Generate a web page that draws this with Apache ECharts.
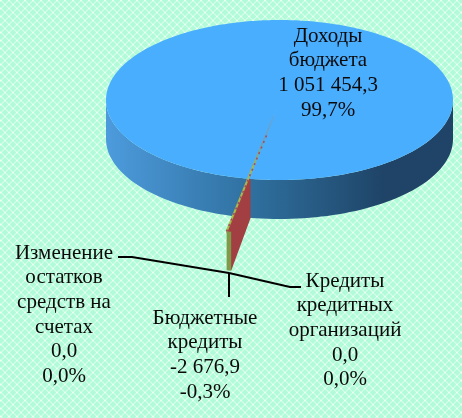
<!DOCTYPE html>
<html>
<head>
<meta charset="utf-8">
<style>
html, body { margin: 0; padding: 0; background: #b5fcd9; }
#main { width: 462px; height: 418px; }
</style>
<script src="https://cdn.jsdelivr.net/npm/echarts@6/dist/echarts.min.js"></script>
</head>
<body>
<div id="main"></div>
<script>
var categories = ['Доходы\nбюджета', 'Изменение\nостатков\nсредств на\nсчетах', 'Бюджетные\nкредиты', 'Кредиты\nкредитных\nорганизаций'];
var values = [1051454.3, 0, -2676.9, 0];

// layout of the fake 3d pie
var cx = 279.5, cy = 100, rx = 173.5, ry = 80, depth = 39;
var pullOut = 1.67;      // the small slice sticks far out of the pie
var startAngle = 189.6;  // degrees clockwise from the top
var labelPos = [[328, 24], [64, 241], [205, 306], [345, 269]];
var leaders = [
  [],
  [[118, 257], [132, 257], [229, 273]],
  [[229, 273], [229, 297]],
  [[229, 273], [290, 287], [301, 287]]
];

var total = values.reduce(function (s, v) { return s + Math.abs(v); }, 0);

function pt(deg, r) {
  var a = deg * Math.PI / 180;
  return [cx + rx * r * Math.sin(a), cy - ry * r * Math.cos(a)];
}
function down(p) {
  return [p[0], p[1] + depth];
}
function fmtNum(v) {
  var s = Math.abs(v).toFixed(1).split('.');
  return (v < 0 ? '-' : '') + s[0].replace(/\B(?=(\d{3})+$)/g, ' ') + ',' + s[1];
}
function fmtPct(v) {
  return (v / total * 100).toFixed(1).replace('.', ',') + '%';
}

// background tile, mint with a diagonal lattice of light lines
function makeTile() {
  var c = document.createElement('canvas');
  c.width = 8;
  c.height = 8;
  var g = c.getContext('2d');
  for (var y = 0; y < 8; y++) {
    for (var x = 0; x < 8; x++) {
      var n = ((x + y) % 8 < 2 ? 1 : 0) + ((x - y + 8) % 8 < 2 ? 1 : 0);
      g.fillStyle = ['#b2fbd8', '#cefde6', '#ecfff6'][n];
      g.fillRect(x, y, 1, 1);
    }
  }
  return c;
}

function mainSlice(sweep) {
  // side band first, then the top of the pie
  var side = [];
  var a;
  for (a = 90; a <= 270; a += 2) side.push(pt(a, 1));
  for (a = 270; a >= 90; a -= 2) side.push(down(pt(a, 1)));
  var top = [[cx, cy]];
  var from = startAngle + (360 - sweep);
  for (a = 0; a <= sweep; a += 1) top.push(pt(from + a, 1));
  top.push(pt(from + sweep, 1));
  return [
    {
      type: 'polygon',
      shape: { points: side },
      style: {
        fill: new echarts.graphic.LinearGradient(0, 0, 1, 0, [
          { offset: 0, color: '#4d9bdd' },
          { offset: 0.42, color: '#2f709f' },
          { offset: 0.8, color: '#1f4467' },
          { offset: 1, color: '#1f4467' }
        ])
      }
    },
    { type: 'polygon', shape: { points: top }, style: { fill: '#4aaeff' } }
  ];
}

function smallSlice(sweep) {
  var right = startAngle, left = startAngle + sweep;
  var tipR = pt(right, pullOut), tipL = pt(left, pullOut);
  var rim = pt(right, 1), rimL = pt(left, 1);
  return [
    {
      // top of the thin slice inside the pie, same blue so no gap shows
      type: 'polygon',
      shape: { points: [[cx, cy], rim, rimL] },
      style: { fill: '#4aaeff', stroke: '#4aaeff', lineWidth: 1 }
    },
    {
      type: 'polygon',
      shape: { points: [rimL, rim, down(rim), down(rimL)] },
      style: { fill: '#2f709f' }
    },
    {
      type: 'polygon',
      shape: { points: [rimL, tipL, down(tipR), down(rim), rim] },
      style: { fill: '#a23f42' }
    },
    {
      type: 'polygon',
      shape: { points: [tipL, tipR, down(tipR), down(tipL)] },
      style: { fill: '#7f9a48' }
    },
    {
      type: 'polyline',
      shape: { points: [pt(right, 0.2), tipL] },
      style: {
        fill: 'none',
        lineWidth: 2,
        stroke: new echarts.graphic.LinearGradient(1, 0, 0, 1, [
          { offset: 0, color: 'rgba(120,150,180,0.25)' },
          { offset: 0.25, color: 'rgba(130,150,140,0.6)' },
          { offset: 0.45, color: '#a8b455' },
          { offset: 1, color: '#a9bb48' }
        ])
      }
    },
    {
      type: 'polyline',
      shape: { points: [pt(right, 0.45), tipL] },
      style: { fill: 'none', lineWidth: 1.6, stroke: '#a0505a', lineDash: [2, 4] }
    }
  ];
}

function renderItem(params, api) {
  var i = params.dataIndex;
  var v = api.value(0);
  var sweep = Math.abs(v) / total * 360;
  var children = [];
  if (v > 0) children = mainSlice(sweep);
  else if (v < 0) children = smallSlice(sweep);
  if (leaders[i].length) {
    children.push({
      type: 'polyline',
      shape: { points: leaders[i] },
      style: { fill: 'none', stroke: '#000', lineWidth: 2 }
    });
  }
  children.push({
    type: 'text',
    style: {
      x: labelPos[i][0],
      y: labelPos[i][1],
      text: categories[i] + '\n' + fmtNum(v) + '\n' + fmtPct(v),
      align: 'center',
      verticalAlign: 'top',
      fontFamily: '"Liberation Serif"',
      fontSize: 21,
      lineHeight: 24.6,
      fill: '#0a0a0a'
    }
  });
  return { type: 'group', children: children };
}

var myChart = echarts.init(document.getElementById('main'), null, { renderer: 'canvas' });

var option = {
  animation: false,
  backgroundColor: { image: makeTile(), repeat: 'repeat' },
  series: [
    {
      type: 'custom',
      coordinateSystem: 'none',
      renderItem: renderItem,
      data: values.map(function (v) { return [v]; })
    }
  ]
};

myChart.setOption(option);
window.addEventListener('resize', myChart.resize);
</script>
</body>
</html>
